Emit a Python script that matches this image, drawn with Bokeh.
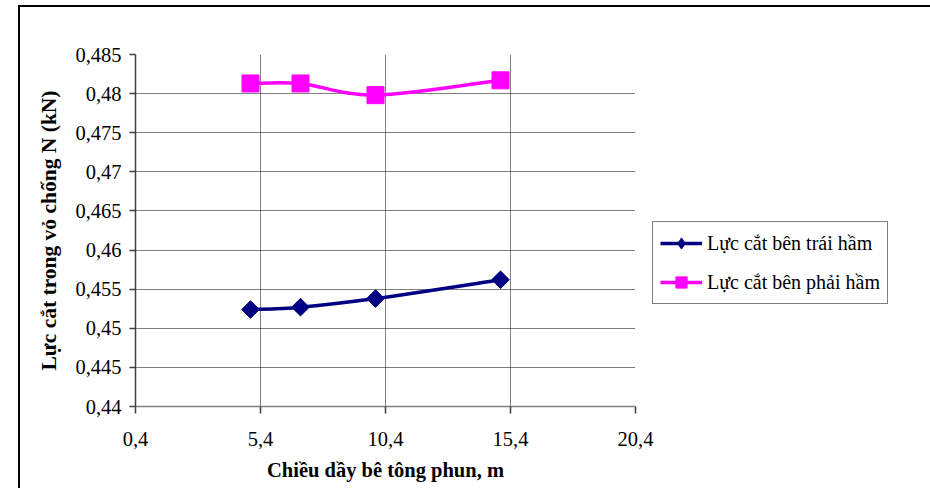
import numpy as np
from bokeh.plotting import figure
from bokeh.models import Range1d, FixedTicker, Legend, LegendItem, ColumnDataSource
from bokeh.embed import file_html
from bokeh.resources import INLINE

# Shotcrete thickness (m) and shear force in the lining (kN)
thickness = [5.0, 7.0, 10.0, 15.0]
shear_left = [0.4524, 0.4527, 0.4538, 0.4562]
shear_right = [0.4813, 0.4813, 0.4798, 0.4817]

x_ticks = [0.4, 5.4, 10.4, 15.4, 20.4]
x_tick_labels = ["0,4", "5,4", "10,4", "15,4", "20,4"]
y_ticks = [0.44, 0.445, 0.45, 0.455, 0.46, 0.465, 0.47, 0.475, 0.48, 0.485]
y_tick_labels = ["0,44", "0,445", "0,45", "0,455", "0,46", "0,465", "0,47", "0,475", "0,48", "0,485"]

series_names = ["Lực cắt bên trái hầm", "Lực cắt bên phải hầm"]
x_title = "Chiều dầy bê tông phun, m"
y_title = "Lực cắt trong vỏ chống N (kN)"

FONT = "Liberation Serif"


def smooth_segments(xs, ys, k=1.0 / 6.0):
    """Cubic Bezier segments through the points (Catmull-Rom style smoothing)."""
    xs = np.asarray(xs, float)
    ys = np.asarray(ys, float)
    n = len(xs)
    x0, y0, x1, y1, cx0, cy0, cx1, cy1 = ([] for _ in range(8))
    for i in range(n - 1):
        im = max(i - 1, 0)
        ip = min(i + 2, n - 1)
        x0.append(xs[i]); y0.append(ys[i])
        x1.append(xs[i + 1]); y1.append(ys[i + 1])
        cx0.append(xs[i] + (xs[i + 1] - xs[im]) * k)
        cy0.append(ys[i] + (ys[i + 1] - ys[im]) * k)
        cx1.append(xs[i + 1] - (xs[ip] - xs[i]) * k)
        cy1.append(ys[i + 1] - (ys[ip] - ys[i]) * k)
    return ColumnDataSource(dict(x0=x0, y0=y0, x1=x1, y1=y1,
                                 cx0=cx0, cy0=cy0, cx1=cx1, cy1=cy1))


p = figure(
    frame_width=500, frame_height=352,
    x_range=Range1d(0.4, 20.4), y_range=Range1d(0.44, 0.485),
    output_backend="svg", toolbar_location=None,
    min_border_left=115, min_border_top=47, min_border_right=20, min_border_bottom=82,
)
p.styles = {"border-left": "2px solid #000000", "border-top": "2px solid #000000"}
p.margin = (5, 0, 0, 18)
p.outline_line_color = None
p.background_fill_color = "white"
p.border_fill_color = "white"

# Axes
p.xaxis.ticker = FixedTicker(ticks=x_ticks)
p.yaxis.ticker = FixedTicker(ticks=y_ticks)
p.xaxis.major_label_overrides = dict(zip(x_ticks, x_tick_labels))
p.yaxis.major_label_overrides = dict(zip(y_ticks, y_tick_labels))
for ax in (p.xaxis[0], p.yaxis[0]):
    ax.major_label_text_font = FONT
    ax.major_label_text_font_size = "20.5px"
    ax.major_label_text_color = "black"
    ax.axis_label_text_font = FONT
    ax.axis_label_text_font_style = "bold"
    ax.axis_label_text_color = "black"
    ax.minor_tick_line_color = None
    ax.major_tick_in = 0
    ax.major_tick_line_width = 1.5
    ax.axis_line_width = 1.5
p.xaxis.axis_label_text_font_size = "20.5px"
p.yaxis.axis_label_text_font_size = "21.5px"

p.xaxis.axis_label = x_title
p.yaxis.axis_label = y_title
p.xaxis.major_tick_out = 7
p.yaxis.major_tick_out = 6
p.xaxis.major_label_standoff = 18
p.yaxis.major_label_standoff = 8
p.xaxis.axis_label_standoff = 10
p.yaxis.axis_label_standoff = 11
p.xaxis.axis_line_color = "#808080"
p.xaxis.major_tick_line_color = "#404040"
p.yaxis.axis_line_color = "#404040"
p.yaxis.major_tick_line_color = "#404040"

# Dotted gridlines
p.xgrid.ticker = FixedTicker(ticks=x_ticks[1:])
p.ygrid.ticker = FixedTicker(ticks=y_ticks[1:])
for g in (p.xgrid[0], p.ygrid[0]):
    g.grid_line_color = "#000000"
    g.grid_line_dash = "1 1"
    g.grid_line_width = 1

# Series: smoothed curve + markers; the legend swatch uses a diamond marker
styles = [
    (shear_left, "#000080", "square", 12.5, np.pi / 4, "diamond"),
    (shear_right, "#FF00FF", "square", 17, 0.0, "square"),
]
items = []
for (vals, color, marker, size, angle, key_marker), name in zip(styles, series_names):
    src = smooth_segments(thickness, vals)
    curve = p.bezier(x0="x0", y0="y0", x1="x1", y1="y1",
                     cx0="cx0", cy0="cy0", cx1="cx1", cy1="cy1",
                     source=src, line_color=color, line_width=3.5)
    p.scatter(thickness, vals, marker=marker, size=size, angle=angle,
              fill_color=color, line_color=color)
    key = p.scatter([np.nan], [np.nan], marker=key_marker, size=size,
                    fill_color=color, line_color=color)
    items.append(LegendItem(label=name, renderers=[curve, key]))

legend = Legend(
    items=items, location=(17, 102),
    label_text_font=FONT, label_text_font_size="20px", label_text_color="black",
    glyph_width=42, glyph_height=28, label_height=28, spacing=11,
    padding=7, label_standoff=5,
    border_line_color="black", border_line_width=1,
    background_fill_color="white", background_fill_alpha=1.0,
)
p.add_layout(legend, "right")

open("out.html", "w").write(file_html(p, INLINE))
